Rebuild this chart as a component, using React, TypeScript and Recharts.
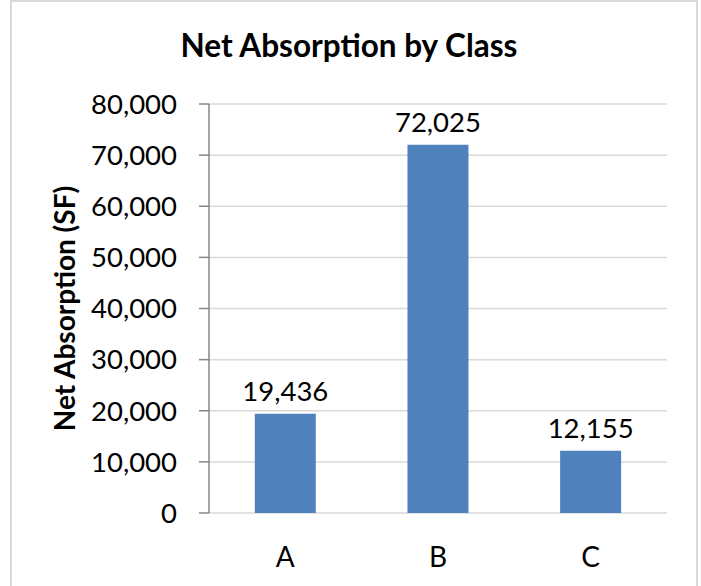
import { Bar, BarChart, CartesianGrid, Label, LabelList, XAxis, YAxis } from "recharts";

const classes = ["A", "B", "C"];
const absorption = [19436, 72025, 12155];
const yTicks = [0, 10000, 20000, 30000, 40000, 50000, 60000, 70000, 80000];
const edgeTicks = [0, 1, 2, 3];

const data = classes.map((c, i) => ({ cls: c, value: absorption[i] }));

const fmt = (v: number) => v.toLocaleString("en-US");

const axisGray = "#868686";

export default function App() {
  return (
    <div
      style={{
        position: "absolute",
        left: 0,
        top: 0,
        width: 701,
        height: 586,
        overflow: "hidden",
        background: "#fff",
        fontFamily: "Lato, sans-serif",
      }}
    >
      <div
        style={{
          position: "absolute",
          left: 10,
          top: 0,
          width: 684,
          height: 640,
          border: "2px solid #d9d9d9",
        }}
      />
      <div
        style={{
          position: "absolute",
          left: 0,
          top: 29,
          width: 698,
          textAlign: "center",
          fontSize: 31.5,
          lineHeight: "32px",
          fontWeight: 700,
          color: "#000",
        }}
      >
        Net Absorption by Class
      </div>
      <div style={{ position: "absolute", left: 0, top: 0 }}>
        <BarChart
          width={701}
          height={586}
          data={data}
          margin={{ top: 104, right: 34, left: 0, bottom: 0 }}
          barCategoryGap="30%"
        >
          <CartesianGrid vertical={false} stroke="#d9d9d9" strokeWidth={1.5} xAxisId="cat" />
          <XAxis
            xAxisId="edge"
            type="number"
            domain={[0, 3]}
            ticks={edgeTicks}
            tickFormatter={() => ""}
            tickSize={10}
            height={0}
            stroke={axisGray}
            strokeWidth={1.5}
          />
          <XAxis
            xAxisId="cat"
            dataKey="cls"
            height={73}
            axisLine={false}
            tickLine={false}
            tickSize={0}
            tickMargin={34}
            tick={{ fill: "#000", fontSize: 28 }}
          />
          <YAxis
            width={209}
            domain={[0, 80000]}
            ticks={yTicks}
            interval={0}
            tickFormatter={fmt}
            tickSize={10}
            tickMargin={22}
            stroke={axisGray}
            strokeWidth={1.5}
            tick={{ fill: "#000", fontSize: 27.5 }}
          >
            <Label
              content={() => (
                <text
                  transform="translate(75,308.5) rotate(-90)"
                  textAnchor="middle"
                  fontSize={28}
                  fontWeight={700}
                  fill="#000"
                >
                  Net Absorption (SF)
                </text>
              )}
            />
          </YAxis>
          <Bar dataKey="value" xAxisId="cat" fill="#4F81BD" isAnimationActive={false}>
            <LabelList
              dataKey="value"
              position="top"
              offset={13}
              formatter={(v: number) => fmt(v)}
              fill="#000"
              fontSize={27.5}
            />
          </Bar>
        </BarChart>
      </div>
    </div>
  );
}
